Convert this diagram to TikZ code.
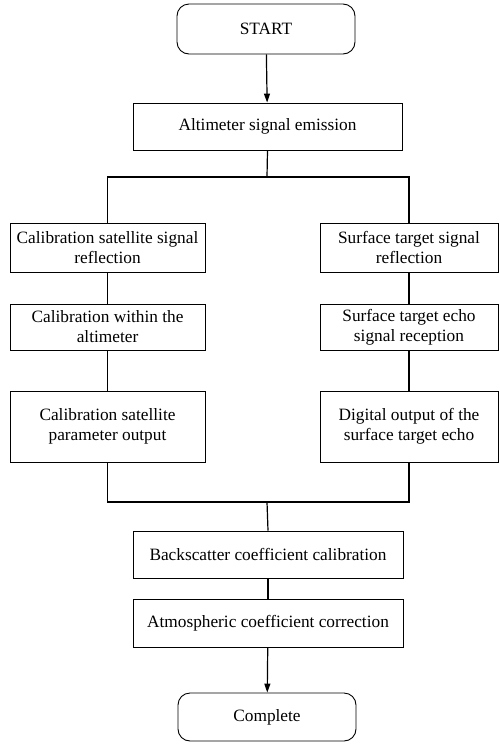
\documentclass[tikz,border=0pt]{standalone}
\usepackage{fontspec}
\setmainfont{Liberation Serif}
\usetikzlibrary{arrows.meta}
\begin{document}
\begin{tikzpicture}[x=1pt,y=-1pt,
  every node/.style={font=\fontsize{17.3}{20}\selectfont, align=center, inner sep=0pt},
  box/.style={draw, line width=0.9pt, fill=white},
  rbox/.style={box, rounded corners=12pt},
  ln/.style={line width=1.2pt},
  arr/.style={ln, -{Triangle[length=9pt,width=6pt]}}]
\useasboundingbox (0,0) rectangle (499,745);
\node[rbox, minimum width=178pt, minimum height=50pt] (start) at (266,29) {START};
\node[box, minimum width=269pt, minimum height=47pt] (emit) at (267.5,126.5) {Altimeter signal emission};
\node[box, minimum width=195pt, minimum height=49pt] (l1) at (107.5,247.5) {Calibration satellite signal\\reflection};
\node[box, minimum width=195pt, minimum height=46pt] (l2) at (107.5,327) {Calibration within the\\altimeter};
\node[box, minimum width=195pt, minimum height=71pt] (l3) at (107.5,426.5) {Calibration satellite\\parameter output};
\node[box, minimum width=178pt, minimum height=49pt] (r1) at (409,247.5) {Surface target signal\\reflection};
\node[box, minimum width=178pt, minimum height=46pt] (r2) at (409,327) {Surface target echo\\signal reception};
\node[box, minimum width=178pt, minimum height=71pt] (r3) at (409,426.5) {Digital output of the\\surface target echo};
\node[box, minimum width=270pt, minimum height=47pt] (bs) at (268,554.5) {Backscatter coefficient calibration};
\node[box, minimum width=270pt, minimum height=48pt] (atm) at (268,623) {Atmospheric coefficient correction};
\node[rbox, minimum width=178pt, minimum height=48pt] (done) at (267,717) {Complete};
\coordinate (sp) at (267,177);
\coordinate (jn) at (267,502);
\draw[arr] (start) -- (emit);
\draw[ln] (emit.south) -- (sp);
\draw[ln] (l1.north) |- (sp) -| (r1.north);
\draw[ln] (l1) -- (l2);
\draw[ln] (l2) -- (l3);
\draw[ln] (r1) -- (r2);
\draw[ln] (r2) -- (r3);
\draw[ln] (l3.south) |- (jn) -| (r3.south);
\draw[ln] (jn) -- (bs.north);
\draw[ln] (bs) -- (atm);
\draw[arr] (atm) -- (done);
\end{tikzpicture}
\end{document}
